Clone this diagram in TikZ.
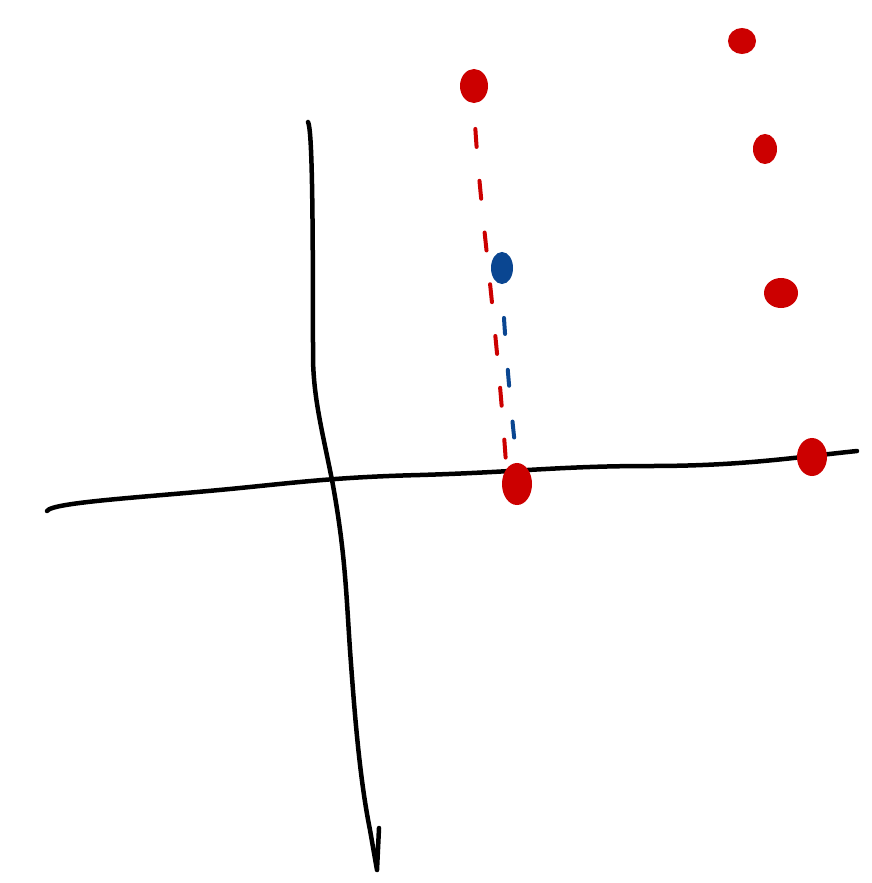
\documentclass[tikz,border=0pt]{standalone}
\definecolor{penred}{RGB}{204,0,0}
\definecolor{penblue}{RGB}{10,70,145}
\tikzset{
  axis/.style={line width=4.5pt,line cap=round,line join=round},
  reddot/.style={draw=penred,fill=penred,ellipse,inner sep=0pt,line width=2pt},
  bluedot/.style={draw=penblue,fill=penblue,ellipse,inner sep=0pt,line width=2pt},
  reddash/.style={draw=penred,line width=4pt,line cap=round,dash pattern=on 18pt off 34pt,dash phase=26pt},
  bluedash/.style={draw=penblue,line width=4pt,line cap=round,dash pattern=on 16pt off 36pt,dash phase=18pt}
}
\usetikzlibrary{shapes.geometric}
\begin{document}
\begin{tikzpicture}[x=1pt,y=-1pt]
\useasboundingbox[fill=white] (0,0) rectangle (871,883);
% axes
\draw[axis] (47,511) .. controls (52,502) and (150,497) .. (240,488)
  .. controls (300,482) and (340,477) .. (420,475)
  .. controls (520,472) and (560,466) .. (650,466)
  .. controls (740,466) and (790,458) .. (857,451);
\draw[axis] (308,122) .. controls (312,130) and (313,200) .. (313,360)
  .. controls (314,400) and (322,430) .. (332,480)
  .. controls (345,550) and (346,590) .. (350,650)
  .. controls (355,720) and (360,780) .. (370,830)
  -- (377,870) -- (379,828);
% points
\node[reddot,minimum width=26pt,minimum height=32pt] (ptop) at (474,86) {};
\node[reddot,minimum width=26pt,minimum height=24pt] (pa) at (742,41) {};
\node[reddot,minimum width=22pt,minimum height=28pt] (pb) at (765,149) {};
\node[reddot,minimum width=32pt,minimum height=28pt] (pc) at (781,293) {};
\node[reddot,minimum width=28pt,minimum height=36pt] (pd) at (812,457) {};
\node[bluedot,minimum width=20pt,minimum height=30pt] (pblue) at (502,268) {};
\node[reddot,minimum width=28pt,minimum height=40pt] (pfoot) at (517,484) {};
% projections
\path[reddash] (ptop.south) .. controls (478,200) and (495,300) .. (pfoot.north west);
\path[bluedash] (pblue.south) .. controls (506,360) and (512,420) .. (pfoot.north);
\end{tikzpicture}
\end{document}
